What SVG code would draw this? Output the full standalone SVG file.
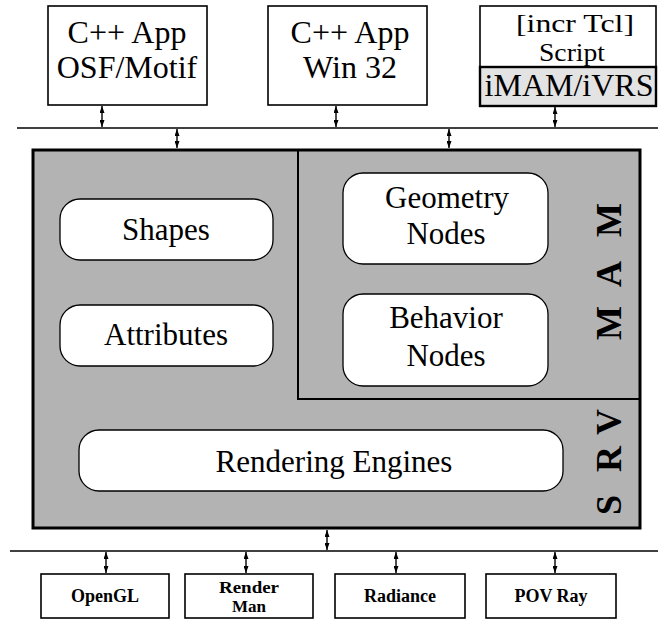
<svg xmlns="http://www.w3.org/2000/svg" width="658" height="622" viewBox="0 0 658 622">
<defs>
<marker id="ah" viewBox="0 0 7 5" refX="7" refY="2.5" markerWidth="7" markerHeight="5" markerUnits="userSpaceOnUse" orient="auto-start-reverse" preserveAspectRatio="none">
<path d="M0,0 L7,2.5 L0,5 z" fill="#000"/>
</marker>
</defs>
<style>
.box{fill:#fff;stroke:#000;stroke-width:1.6}
.rbox{fill:#fff;stroke:#000;stroke-width:1.3}
.t{font-family:"Liberation Serif","Times New Roman",serif;fill:#000;text-anchor:middle}
.big{font-size:32px}
.mid{font-size:31px}
.small{font-size:18px;font-weight:bold}
.side{font-size:36px;font-weight:bold}
.bus{stroke:#000;stroke-width:1.4;fill:none}
.arr{stroke:#000;stroke-width:1.4;fill:none;marker-start:url(#ah);marker-end:url(#ah)}
</style>

<g id="connectors">
<line class="bus" x1="17" y1="128" x2="658" y2="128"/>
<line class="bus" x1="10" y1="551" x2="658" y2="551"/>
<line class="arr" x1="102" y1="106" x2="102" y2="127"/>
<line class="arr" x1="336" y1="106" x2="336" y2="127"/>
<line class="arr" x1="555" y1="107" x2="555" y2="127"/>
<line class="arr" x1="177" y1="129" x2="177" y2="148"/>
<line class="arr" x1="449" y1="129" x2="449" y2="148"/>
<line class="arr" x1="327" y1="530" x2="327" y2="550"/>
<line class="arr" x1="106" y1="552" x2="106" y2="573"/>
<line class="arr" x1="246" y1="552" x2="246" y2="573"/>
<line class="arr" x1="396" y1="552" x2="396" y2="573"/>
<line class="arr" x1="555" y1="552" x2="555" y2="573"/>
</g>

<g id="app-motif">
<rect class="box" x="48" y="6" width="159" height="99"/>
<text class="t big" x="127" y="43">C++ App<tspan x="127" dy="35">OSF/Motif</tspan></text>
</g>

<g id="app-win32">
<rect class="box" x="268" y="6" width="159" height="99"/>
<text class="t big" x="350" y="43">C++ App<tspan x="350" dy="35">Win 32</tspan></text>
</g>

<g id="tcl-script">
<rect class="box" x="480" y="6" width="176" height="100"/>
<text class="t" style="font-size:26px" x="575" y="32" textLength="118" lengthAdjust="spacingAndGlyphs">[incr Tcl]</text>
<text class="t" style="font-size:26px" x="572" y="61" textLength="66" lengthAdjust="spacingAndGlyphs">Script</text>
<rect x="480" y="67" width="176" height="39" fill="#e3e3e3" stroke="#000" stroke-width="2.4"/>
<text class="t big" x="569" y="96">iMAM/iVRS</text>
</g>

<g id="vrs">
<rect x="33" y="150" width="607" height="378" fill="#b3b3b3" stroke="#000" stroke-width="3"/>
<text class="t side" transform="rotate(-90 609 422)" x="609" y="434">V</text>
<text class="t side" transform="rotate(-90 609 459)" x="609" y="471">R</text>
<text class="t side" transform="rotate(-90 609 505)" x="609" y="517">S</text>
</g>

<g id="mam">
<rect x="298" y="150" width="342" height="249" fill="none" stroke="#000" stroke-width="2"/>
<text class="t side" transform="rotate(-90 609 220)" x="609" y="232">M</text>
<text class="t side" transform="rotate(-90 609 274)" x="609" y="286">A</text>
<text class="t side" transform="rotate(-90 609 323)" x="609" y="335">M</text>
</g>

<g id="shapes">
<rect class="rbox" x="60" y="199" width="213" height="61" rx="20"/>
<text class="t mid" x="166" y="240">Shapes</text>
</g>

<g id="attributes">
<rect class="rbox" x="60" y="305" width="213" height="61" rx="20"/>
<text class="t mid" x="166" y="345">Attributes</text>
</g>

<g id="geometry-nodes">
<rect class="rbox" x="343" y="173" width="205" height="91" rx="20"/>
<text class="t mid" x="447" y="208">Geometry<tspan x="446" dy="36">Nodes</tspan></text>
</g>

<g id="behavior-nodes">
<rect class="rbox" x="343" y="294" width="205" height="92" rx="20"/>
<text class="t mid" x="446" y="328">Behavior<tspan x="446" dy="38">Nodes</tspan></text>
</g>

<g id="rendering-engines">
<rect class="rbox" x="79" y="430" width="484" height="61" rx="20"/>
<text class="t mid" x="334" y="472">Rendering Engines</text>
</g>

<g id="opengl">
<rect class="box" x="41" y="574" width="128" height="44"/>
<text class="t small" x="105" y="602">OpenGL</text>
</g>

<g id="renderman">
<rect class="box" x="185" y="574" width="128" height="44"/>
<text class="t" style="font-size:17px;font-weight:bold" x="249" y="593" textLength="60" lengthAdjust="spacingAndGlyphs">Render</text>
<text class="t" style="font-size:17px;font-weight:bold" x="249" y="612">Man</text>
</g>

<g id="radiance">
<rect class="box" x="335" y="574" width="130" height="44"/>
<text class="t small" x="400" y="602">Radiance</text>
</g>

<g id="povray">
<rect class="box" x="486" y="574" width="130" height="44"/>
<text class="t small" x="551" y="602">POV Ray</text>
</g>
</svg>
